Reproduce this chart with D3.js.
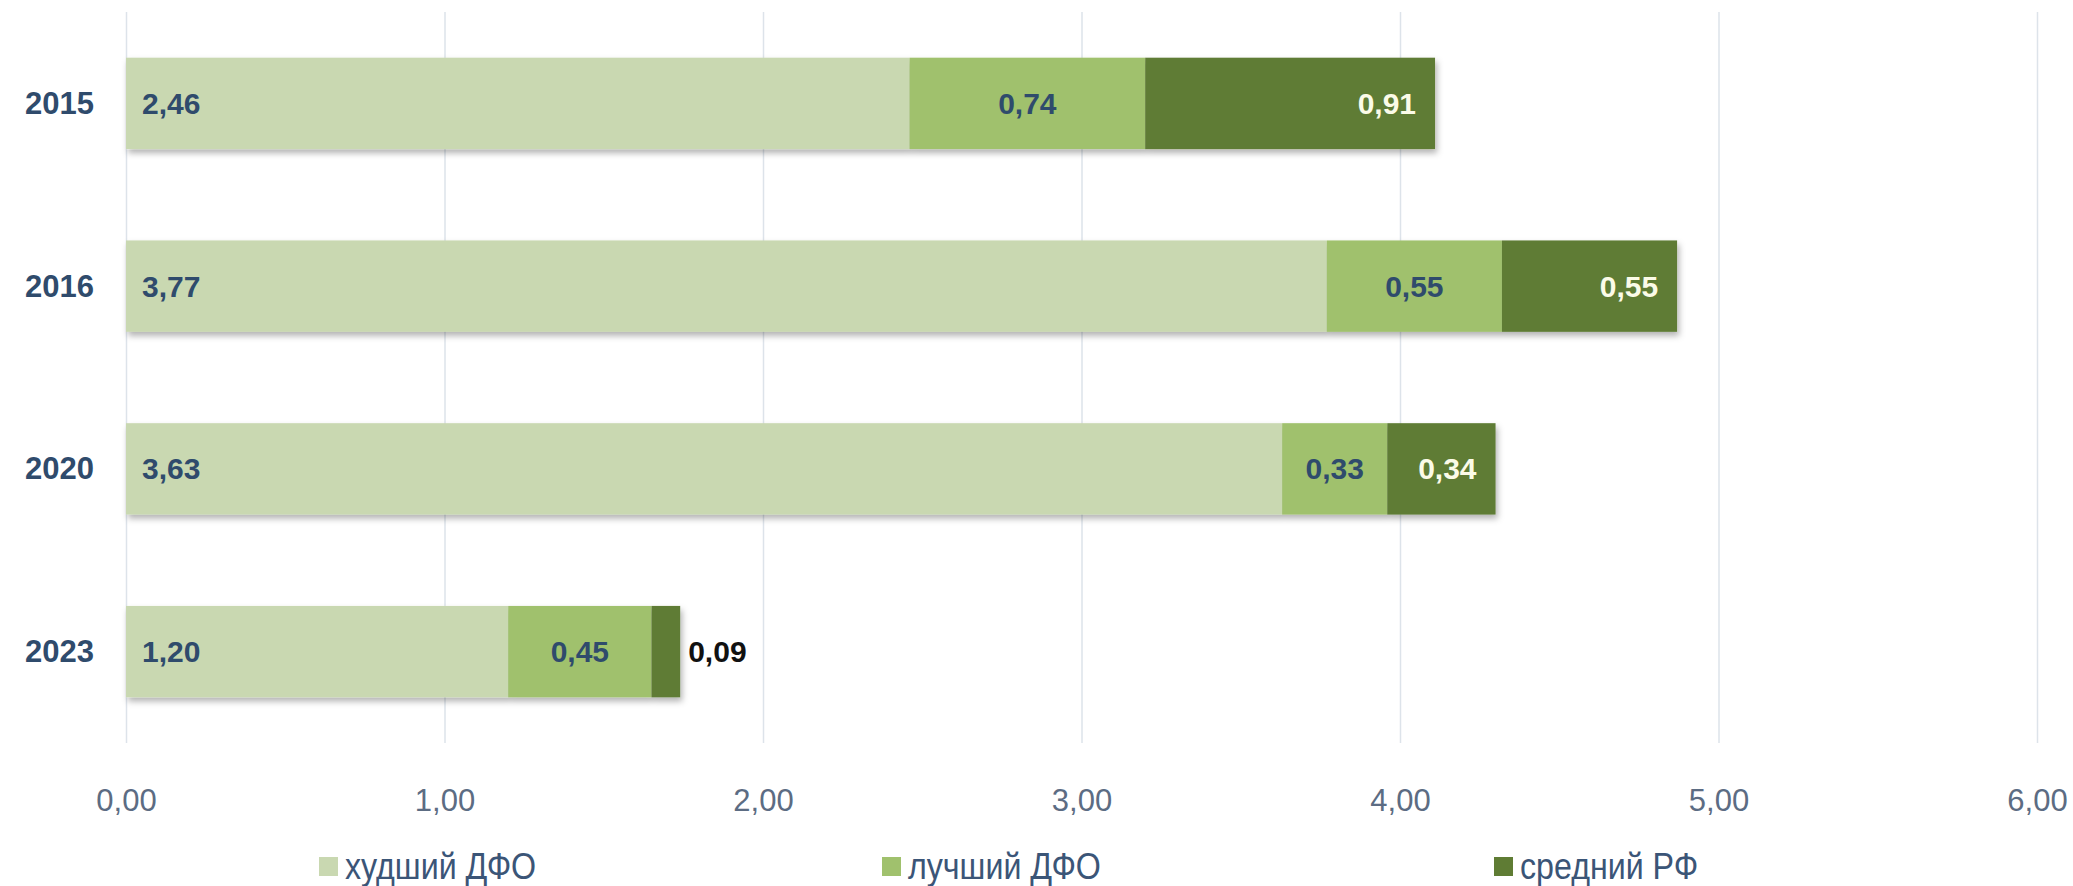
<!DOCTYPE html>
<html>
<head>
<meta charset="utf-8">
<script src="https://cdn.jsdelivr.net/npm/d3@7"></script>
<style>
  html, body { margin: 0; padding: 0; background: #fff; }
  svg { display: block; font-family: "Liberation Sans", Arial, sans-serif; }
</style>
</head>
<body>
<div id="chart"></div>
<script>
const years = ["2015", "2016", "2020", "2023"];
const worstDfo = [2.46, 3.77, 3.63, 1.20];
const bestDfo = [0.74, 0.55, 0.33, 0.45];
const avgRf = [0.91, 0.55, 0.34, 0.09];
const seriesNames = ["худший ДФО", "лучший ДФО", "средний РФ"];
const xTicks = [0, 1, 2, 3, 4, 5, 6];

const width = 2073;
const height = 886;
const margin = { top: 12, right: 36, bottom: 143, left: 126 };

const colors = ["#c9d8b1", "#a0c16d", "#5f7c34"];
const labelColors = ["#2f4b6c", "#2f4b6c", "#fbfbe8"];

const fmt = (v) => d3.format(".2f")(v).replace(".", ",");

const data = years.map((year, i) => ({
  year,
  values: [worstDfo[i], bestDfo[i], avgRf[i]],
}));

const x = d3
  .scaleLinear()
  .domain([0, 6])
  .range([margin.left, width - margin.right]);

const y = d3
  .scaleBand()
  .domain(years)
  .range([margin.top, height - margin.bottom])
  .paddingInner(0.5)
  .paddingOuter(0.25);

const svg = d3
  .select("#chart")
  .append("svg")
  .attr("width", width)
  .attr("height", height)
  .attr("viewBox", [0, 0, width, height]);

const defs = svg.append("defs");
defs
  .append("filter")
  .attr("id", "shadow")
  .attr("x", "-5%")
  .attr("y", "-10%")
  .attr("width", "115%")
  .attr("height", "140%")
  .append("feDropShadow")
  .attr("dx", 2)
  .attr("dy", 4)
  .attr("stdDeviation", 3)
  .attr("flood-color", "#000")
  .attr("flood-opacity", 0.3);

// vertical grid lines + tick labels
const xAxis = svg
  .append("g")
  .attr("transform", `translate(0, ${height - margin.bottom})`)
  .call(
    d3
      .axisBottom(x)
      .tickValues(xTicks)
      .tickSize(-(height - margin.top - margin.bottom))
      .tickPadding(46)
      .tickFormat(fmt)
  );

xAxis.select(".domain").remove();
xAxis
  .selectAll(".tick line")
  .attr("stroke", "#dde3ea")
  .attr("stroke-width", 1.5);
xAxis
  .selectAll(".tick text")
  .attr("fill", "#5c6c83")
  .attr("font-size", 31)
  .attr("dy", "0.71em");

// year labels
svg
  .append("g")
  .selectAll("text")
  .data(years)
  .join("text")
  .attr("x", margin.left - 32)
  .attr("y", (d) => y(d) + y.bandwidth() / 2)
  .attr("text-anchor", "end")
  .attr("dominant-baseline", "central")
  .attr("font-size", 31)
  .attr("font-weight", "bold")
  .attr("fill", "#2f4b6c")
  .text((d) => d);

// stacked bars
const rows = svg
  .append("g")
  .selectAll("g")
  .data(data)
  .join("g");

rows.each(function (d) {
  const row = d3.select(this);
  let acc = 0;
  const segs = d.values.map((v, k) => {
    const s = { k, v, x0: acc, x1: acc + v };
    acc += v;
    return s;
  });

  row
    .append("g")
    .attr("filter", "url(#shadow)")
    .selectAll("rect")
    .data(segs)
    .join("rect")
    .attr("x", (s) => x(s.x0))
    .attr("y", y(d.year))
    .attr("width", (s) => x(s.x1) - x(s.x0))
    .attr("height", y.bandwidth())
    .attr("fill", (s) => colors[s.k]);

  row
    .selectAll("text")
    .data(segs)
    .join("text")
    .attr("y", y(d.year) + y.bandwidth() / 2)
    .attr("dominant-baseline", "central")
    .attr("font-size", 30)
    .attr("font-weight", "bold")
    .each(function (s) {
      const t = d3.select(this);
      const segW = x(s.x1) - x(s.x0);
      if (s.k === 0) {
        t.attr("x", x(s.x0) + 16).attr("text-anchor", "start").attr("fill", labelColors[0]);
      } else if (s.k === 1) {
        t.attr("x", (x(s.x0) + x(s.x1)) / 2).attr("text-anchor", "middle").attr("fill", labelColors[1]);
      } else if (segW > 80) {
        t.attr("x", x(s.x1) - 19).attr("text-anchor", "end").attr("fill", labelColors[2]);
      } else {
        // too narrow, put it outside
        t.attr("x", x(s.x1) + 8).attr("text-anchor", "start").attr("fill", "#111");
      }
    })
    .text((s) => fmt(s.v));
});

// legend
const legendX = [319, 882, 1494];
const legend = svg
  .append("g")
  .selectAll("g")
  .data(seriesNames)
  .join("g")
  .attr("transform", (d, i) => `translate(${legendX[i]}, 866)`);

legend
  .append("rect")
  .attr("x", 0)
  .attr("y", -9)
  .attr("width", 19)
  .attr("height", 19)
  .attr("fill", (d, i) => colors[i]);

// reference font is a bit condensed
legend
  .append("text")
  .attr("transform", "translate(26, 0) scale(0.87, 1)")
  .attr("dominant-baseline", "central")
  .attr("font-size", 37)
  .attr("fill", "#3b5577")
  .text((d) => d);
</script>
</body>
</html>
